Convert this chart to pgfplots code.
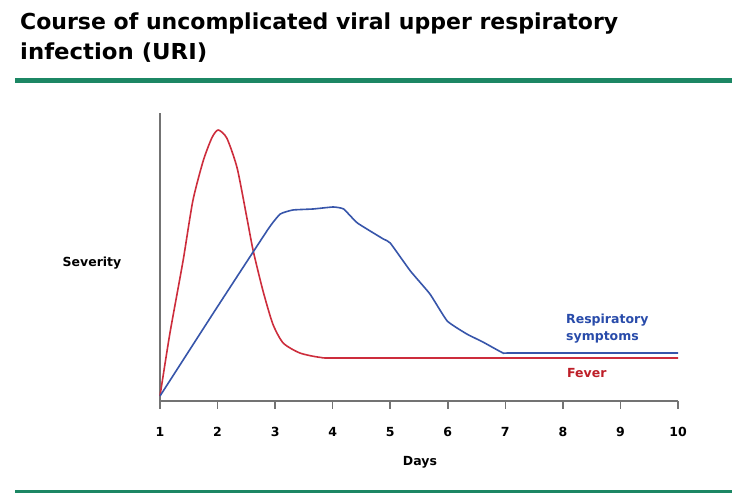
\documentclass[border=0pt]{standalone}
\usepackage{pgfplots}
\pgfplotsset{compat=1.18}
\usepackage{fontspec}
\setmainfont{DejaVu Sans}
\usepackage{graphicx}
\definecolor{rulegreen}{RGB}{28,135,100}
\definecolor{feverred}{RGB}{205,45,60}
\definecolor{respblue}{RGB}{55,85,170}
\definecolor{labblue}{RGB}{40,75,170}
\definecolor{labred}{RGB}{190,30,40}
\definecolor{axgray}{RGB}{115,115,115}
\begin{document}
\begin{tikzpicture}[x=1bp,y=1bp]
\fill[white] (0,0) rectangle (750,502);
\useasboundingbox (0,0) rectangle (750,502);
% title
\node[anchor=base west,inner sep=0pt] at (20,472) {\resizebox{598bp}{\height}{\fontsize{22bp}{26bp}\selectfont\bfseries Course of uncomplicated viral upper respiratory}};
\node[anchor=base west,inner sep=0pt] at (20,442) {\resizebox{187bp}{\height}{\fontsize{22bp}{26bp}\selectfont\bfseries infection (URI)}};
\fill[rulegreen] (15,419) rectangle (732,424);
\fill[rulegreen] (15,9) rectangle (732,12);
\begin{axis}[
  at={(160bp,101bp)}, anchor=origin,
  scale only axis, width=518bp, height=288bp,
  xmin=1, xmax=10, ymin=0, ymax=288,
  axis x line=bottom, axis y line=left,
  axis line style={-, draw=axgray, line width=1.8bp},
  xtick={1,...,10}, xticklabels={1,2,3,4,5,6,7,8,9,10},
  ytick=\empty,
  xtick align=outside, major tick length=8bp,
  xtick style={draw=axgray, line width=1.5bp, solid},
  xticklabel style={font=\fontsize{12.5bp}{14bp}\selectfont\bfseries, anchor=center, yshift=-23bp},
  clip=false,
]
\addplot[feverred, line width=1.6bp, smooth, tension=0.4] coordinates {
 (1,5) (1.17,67) (1.40,140) (1.57,200) (1.75,240) (1.90,263) (2.01,271)
 (2.16,263) (2.34,233) (2.51,183) (2.62,150) (2.79,110) (2.96,77) (3.14,58)
 (3.43,48) (3.80,43.5) (4.3,43) (10,43)
};
\addplot[respblue, line width=1.6bp, smooth, tension=0.25] coordinates {
 (1,5) (1.95,90) (2.88,172) (3.09,187)
 (3.31,191) (3.66,192) (4.01,194) (4.19,192) (4.43,178) (4.88,162) (5.00,158)
 (5.35,130) (5.69,107) (5.99,80) (6.33,67) (6.61,59) (6.96,48) (7.1,48) (10,48)
};
\end{axis}
\node[font=\fontsize{12.5bp}{14bp}\selectfont\bfseries] at (420,40) {Days};
\node[font=\fontsize{12.5bp}{14bp}\selectfont\bfseries] at (92,239) {Severity};
\node[anchor=west,inner sep=0pt,font=\fontsize{12.5bp}{14bp}\selectfont\bfseries,text=labblue] at (566,182) {Respiratory};
\node[anchor=west,inner sep=0pt,font=\fontsize{12.5bp}{14bp}\selectfont\bfseries,text=labblue] at (566,165) {symptoms};
\node[anchor=west,inner sep=0pt,font=\fontsize{12.5bp}{14bp}\selectfont\bfseries,text=labred] at (567,129) {Fever};
\end{tikzpicture}
\end{document}
